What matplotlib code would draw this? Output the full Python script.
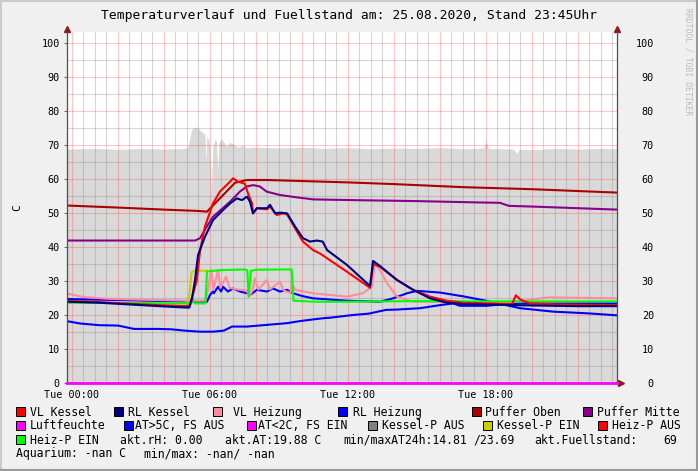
import matplotlib
matplotlib.use("Agg")
import matplotlib.pyplot as plt
from matplotlib.patches import Rectangle
from matplotlib.lines import Line2D
from matplotlib import transforms

# ---- data (time in hours since Tue 00:00) ----
title = "Temperaturverlauf und Fuellstand am: 25.08.2020, Stand 23:45Uhr"
xtick_pos = [0, 6, 12, 18]
xtick_labels = ["Tue 00:00", "Tue 06:00", "Tue 12:00", "Tue 18:00"]

fuell_t = [-0.22, 1, 2, 3, 4, 4.9, 5.05, 5.2, 5.35, 5.5, 5.65, 5.78, 5.82, 5.86, 5.95, 6.0, 6.06,
           6.12, 6.2, 6.28, 6.33, 6.38, 6.5, 6.6, 6.7, 6.85, 7.0, 7.2, 7.4, 7.6, 8, 9, 10, 11, 12,
           13, 14, 15, 16, 17, 17.9, 18.0, 18.1, 19.2, 19.35, 19.45, 20, 21, 22, 23, 23.7]
fuell_v = [68.8, 69.0, 68.7, 69.0, 68.8, 69.0, 69.5, 74.5, 75.3, 74.9, 73.8, 73.2, 65.0, 72.5, 71.5,
           69.0, 57.0, 69.0, 71.5, 71.2, 62.6, 70.5, 71.7, 71.0, 69.5, 70.8, 70.3, 69.3, 69.8, 69.2,
           69.4, 69.1, 69.3, 69.0, 69.2, 68.9, 69.1, 69.0, 69.2, 68.9, 69.1, 71.2, 69.0, 68.8, 67.5,
           68.8, 68.6, 69.0, 68.8, 69.0, 68.9]

vlk_t = [-0.22, 1.2, 2.5, 3.8, 4.9, 5.13, 5.43, 5.57, 5.78, 6.13, 6.43, 6.87, 7.0, 7.22, 7.52, 7.65,
         7.83, 7.87, 8.04, 8.48, 8.61, 8.91, 9.17, 9.35, 9.7, 10.04, 10.48, 10.78, 11.09, 11.96,
         12.96, 13.09, 13.39, 14.13, 14.83, 15.57, 16.3, 17.0, 18.6, 19.13, 19.3, 19.48, 19.9,
         21.2, 23.7]
vlk_v = [24.2, 23.8, 23.3, 22.9, 22.6, 22.8, 30.3, 39.1, 46.0, 52.8, 56.3, 59.2, 60.2, 59.2, 58.6,
         55.8, 52.8, 49.9, 51.4, 51.1, 51.9, 49.4, 49.9, 49.6, 45.5, 41.6, 39.1, 38.1, 36.7, 32.7,
         28.0, 35.0, 34.2, 30.3, 27.4, 25.4, 24.2, 23.6, 23.3, 23.2, 25.8, 24.6, 23.4, 23.1, 22.9]

rlk_t = [-0.22, 1.2, 2.5, 3.8, 4.9, 5.1, 5.22, 5.35, 5.48, 5.78, 6.13, 6.57, 6.87, 7.17, 7.39, 7.61,
         7.74, 7.87, 8.04, 8.48, 8.61, 8.83, 9.04, 9.35, 9.7, 10.04, 10.35, 10.65, 10.9, 11.09,
         11.96, 12.96, 13.09, 13.39, 14.13, 14.83, 15.57, 16.3, 17.0, 18.6, 20, 22, 23.7]
rlk_v = [23.9, 23.6, 23.1, 22.6, 22.2, 22.2, 25.0, 30.3, 37.6, 43.0, 47.9, 50.9, 52.8, 54.3, 53.8,
         54.8, 53.3, 49.9, 51.4, 51.4, 52.4, 49.9, 50.1, 49.9, 46.0, 42.6, 41.6, 41.9, 41.6, 39.1,
         34.7, 28.5, 35.9, 34.4, 30.3, 27.4, 24.9, 23.6, 23.2, 23.0, 22.8, 22.6, 22.6]

vlh_t = [-0.22, 0.5, 1.5, 3, 5, 5.8, 5.9, 6.05, 6.15, 6.35, 6.45, 6.7, 6.85, 7.2, 7.6, 7.7, 7.85,
         7.95, 8.1, 8.48, 8.6, 9.04, 9.2, 9.5, 9.55, 9.7, 10.48, 11.96, 12.65, 13.04, 13.17, 13.39,
         13.7, 14.13, 14.83, 17, 19.3, 20.7, 23.7]
vlh_v = [26.3, 25.3, 24.8, 24.5, 24.2, 24.2, 27.0, 33.4, 27.5, 33.2, 28.0, 31.3, 28.0, 27.5, 27.2,
         25.5, 27.2, 30.8, 27.5, 30.3, 27.5, 29.8, 27.2, 26.5, 29.5, 27.4, 26.4, 25.4, 26.4, 28.3,
         35.2, 33.2, 29.3, 25.4, 23.9, 23.8, 23.9, 25.2, 24.9]

rlh_t = [-0.22, 2, 4, 5.87, 6.0, 6.13, 6.17, 6.35, 6.48, 6.57, 6.78, 7.0, 7.3, 7.61, 7.74, 8.04,
         8.48, 8.74, 9.04, 9.35, 9.61, 10.0, 10.48, 11.96, 13.39, 13.96, 14.57, 15.0, 16.0, 17.0,
         18.0, 19.48, 20.9, 22.4, 23.7]
rlh_v = [24.7, 24.4, 24.1, 23.9, 25.9, 26.9, 26.4, 28.3, 26.9, 28.3, 26.9, 27.8, 26.9, 26.4, 25.9,
         27.4, 26.9, 27.8, 26.9, 27.4, 26.4, 25.6, 24.9, 24.2, 23.9, 24.9, 26.4, 27.1, 26.6, 25.5,
         24.2, 22.0, 21.0, 20.5, 19.9]

at_t = [-0.22, 0.35, 1.2, 2.0, 2.7, 3.8, 4.3, 4.9, 5.57, 6.13, 6.6, 6.96, 7.61, 8.48, 9.35, 9.91,
        10.48, 11.0, 11.22, 12.22, 12.9, 13.65, 14.13, 15.13, 16.0, 16.57, 16.87, 18.04, 19.04,
        21.0, 23.7]
at_v = [18.2, 17.5, 17.0, 16.9, 15.9, 15.9, 15.8, 15.4, 15.1, 15.1, 15.4, 16.6, 16.6, 17.1, 17.6,
        18.2, 18.7, 19.1, 19.2, 20.0, 20.4, 21.5, 21.6, 22.0, 22.9, 23.4, 22.7, 22.7, 23.4, 23.4,
        23.4]

po_t = [-0.22, 2, 4, 5.5, 5.87, 7.09, 7.6, 8.5, 12, 14, 17.0, 20, 23.7]
po_v = [52.2, 51.6, 51.0, 50.6, 50.4, 58.9, 59.7, 59.7, 59.0, 58.5, 57.6, 57.0, 56.0]

pm_t = [-0.22, 5.35, 5.57, 5.86, 6.13, 6.87, 7.3, 7.6, 7.88, 8.17, 8.46, 9.04, 9.77, 10.5, 12.1,
        15, 17.7, 18.6, 19.0, 20, 23.7]
pm_v = [41.9, 41.9, 42.6, 46.0, 48.9, 53.3, 56.3, 57.8, 58.2, 57.8, 56.3, 55.3, 54.6, 54.0, 53.8,
        53.5, 53.1, 53.0, 52.1, 51.9, 51.0]

kpe_t = [5.0, 5.1, 5.2, 5.3, 5.87]
kpe_v = [23.6, 25.5, 32.5, 33.0, 33.0]

hpe_t = [-0.22, 5.0, 5.12, 5.22, 5.35, 5.8, 5.87, 6.5, 7.5, 7.62, 7.68, 7.78, 8.0, 9.3, 9.55,
         9.63, 10.5, 12, 15, 18, 23.7]
hpe_v = [23.6, 23.4, 23.4, 25.0, 23.4, 23.4, 32.8, 33.2, 33.4, 33.2, 25.4, 33.0, 33.3, 33.4, 33.4,
         24.2, 23.9, 23.9, 24.1, 24.0, 24.0]

luft_t = [-0.22, 23.7]
luft_v = [0.0, 0.0]

legend_rows = [
    [("sq", "#FF0000", 16), ("tx", "VL Kessel", 30), ("sq", "#000080", 114), ("tx", "RL Kessel", 128),
     ("sq", "#FF8C9E", 213), ("tx", "VL Heizung", 233), ("sq", "#0000FF", 338), ("tx", "RL Heizung", 353),
     ("sq", "#AA0000", 472), ("tx", "Puffer Oben", 485), ("sq", "#880088", 583), ("tx", "Puffer Mitte", 597)],
    [("sq", "#FF00FF", 16), ("tx", "Luftfeuchte", 30), ("sq", "#0000FF", 124), ("tx", "AT>5C, FS AUS", 135),
     ("sq", "#FF00FF", 247), ("tx", "AT<2C, FS EIN", 258), ("sq", "#808080", 368), ("tx", "Kessel-P AUS", 382),
     ("sq", "#CCCC00", 483), ("tx", "Kessel-P EIN", 497), ("sq", "#FF0000", 598), ("tx", "Heiz-P AUS", 612)],
    [("sq", "#00FF00", 16), ("tx", "Heiz-P EIN", 30), ("tx", "akt.rH: 0.00", 120), ("tx", "akt.AT:19.88 C", 225),
     ("tx", "min/maxAT24h:14.81", 343), ("tx", "/23.69", 473), ("tx", "akt.Fuellstand:", 534), ("tx", "69", 663)],
    [("tx", "Aquarium: -nan C", 16), ("tx", "min/max: -nan/ -nan", 144)],
]
legend_base = [415.7, 429.3, 443.7, 457.2]

W, H = 698, 471
plt.rcParams['font.family'] = 'DejaVu Sans Mono'

fig = plt.figure(figsize=(W / 100, H / 100), dpi=100, facecolor="#F0F0F0")


def fx(x):
    return x / W


def fy(y):
    return 1 - y / H


# 3d border like rrdtool
fig.add_artist(Line2D([0, 1], [fy(1), fy(1)], color="#CBCBCB", lw=1.5))
fig.add_artist(Line2D([fx(1), fx(1)], [0, 1], color="#CBCBCB", lw=1.5))
fig.add_artist(Line2D([0, 1], [fy(H - 1), fy(H - 1)], color="#999999", lw=1.5))
fig.add_artist(Line2D([fx(W - 1), fx(W - 1)], [0, 1], color="#999999", lw=1.5))

ax = fig.add_axes([fx(67), fy(383), (617 - 67) / W, (383 - 32) / H])
ax.set_facecolor("white")
ax.set_xlim(-0.217, 23.696)
ax.set_ylim(0, (383 - 32) / 3.4)

ax.fill_between(fuell_t, 0, fuell_v, color="#D9D9D9", lw=0, zorder=0.1)

# grid
ax.set_axisbelow(True)
ax.set_xticks(range(0, 24, 2))
ax.set_xticks([h / 2 for h in range(0, 48)], minor=True)
ax.set_yticks(range(0, 101, 10))
ax.set_yticks(range(0, 101, 5), minor=True)
ax.grid(which="major", color="#FF3030", alpha=0.27, lw=0.8)
ax.grid(which="minor", color="#848484", alpha=0.32, lw=0.8)
ax.set_xticklabels([xtick_labels[xtick_pos.index(h)] if h in xtick_pos else "" for h in range(0, 24, 2)])
ax.tick_params(axis="x", which="both", length=0, pad=5, labelsize=7.3)
ax.tick_params(axis="y", which="major", length=2.2, width=0.8, color="#707070", pad=2.9, labelsize=7.3)
ax.tick_params(axis="y", which="minor", length=0)

for s in ["top"]:
    ax.spines[s].set_visible(False)
for s in ["left", "right", "bottom"]:
    ax.spines[s].set_color("#505050")
    ax.spines[s].set_linewidth(0.9)

ax2 = ax.twinx()
ax2.set_ylim(ax.get_ylim())
ax2.set_yticks(range(0, 101, 10))
ax2.tick_params(axis="y", length=0, pad=26.6, labelsize=7.3)
plt.setp(ax2.get_yticklabels(), ha="right")
for s in ax2.spines.values():
    s.set_visible(False)

lw = 1.5
ax.plot(po_t, po_v, color="#AA0000", lw=lw, zorder=2)
ax.plot(pm_t, pm_v, color="#880088", lw=lw, zorder=2)
ax.plot(at_t, at_v, color="#0000FF", lw=lw, zorder=2)
ax.plot(rlh_t, rlh_v, color="#0000FF", lw=lw, zorder=2)
ax.plot(vlh_t, vlh_v, color="#FF8C9E", lw=lw, zorder=2)
ax.plot(kpe_t, kpe_v, color="#CCCC00", lw=lw, zorder=2)
ax.plot(hpe_t, hpe_v, color="#00FF00", lw=lw, zorder=2)
ax.plot(vlk_t, vlk_v, color="#FF0000", lw=lw, zorder=2)
ax.plot(rlk_t, rlk_v, color="#000080", lw=lw, zorder=2)
ax.plot(luft_t, luft_v, color="#FF00FF", lw=2, zorder=3, clip_on=False)

# axis arrows
up = transforms.offset_copy(ax.transAxes, fig=fig, x=0, y=3, units="dots")
ax.plot([0, 1], [1, 1], ls="none", marker="^", ms=4, color="#8B1A1A", transform=up, clip_on=False)
rt = transforms.offset_copy(ax.transAxes, fig=fig, x=4, y=0, units="dots")
ax.plot([1], [0], ls="none", marker=">", ms=4, color="#8B1A1A", transform=rt, clip_on=False)

ax.set_ylabel("C", fontsize=8, labelpad=14)

fig.text(fx(349), fy(16), title, ha="center", va="center", fontsize=9.4)
fig.text(fx(688), fy(8), "RRDTOOL / TOBI OETIKER", rotation=270, ha="center", va="top",
         fontsize=5.8, color="#BBBBBB")

for row, base in zip(legend_rows, legend_base):
    for kind, val, x in row:
        if kind == "sq":
            fig.add_artist(Rectangle((fx(x), fy(base + 0.5)), 9 / W, 9 / H, facecolor=val,
                                     edgecolor="black", lw=0.7, transform=fig.transFigure))
        else:
            fig.text(fx(x), fy(base), val, ha="left", va="baseline", fontsize=8.3)

fig.savefig("out.png", dpi=100, facecolor=fig.get_facecolor())
